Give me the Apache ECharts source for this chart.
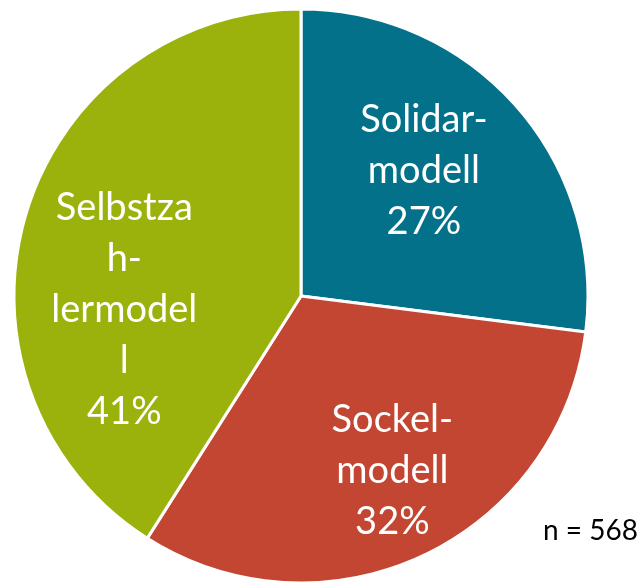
<!DOCTYPE html>
<html>
<head>
<meta charset="utf-8">
<script src="https://cdn.jsdelivr.net/npm/echarts@6/dist/echarts.min.js"></script>
<style>
html,body{margin:0;padding:0;background:#fff;}
#chart{width:644px;height:582px;}
</style>
</head>
<body>
<div id="chart"></div>
<script>
var categories = ['Solidar-\nmodell', 'Sockel-\nmodell', 'Selbstza\nh-\nlermodel\nl'];
var values = [27, 32, 41];
var colors = ['#04718a', '#c24632', '#9bb20c'];
var sampleNote = 'n = 568';
var labelShift = [[13, -28], [29, 42], [-36, 55]];

var chart = echarts.init(document.getElementById('chart'));
chart.setOption({
  animation: false,
  backgroundColor: '#ffffff',
  graphic: [{
    type: 'text',
    right: 6,
    top: 517,
    style: {
      text: sampleNote,
      fill: '#000000',
      font: '28px Lato',
      textAlign: 'right'
    }
  }],
  series: [{
    type: 'pie',
    center: [301, 296],
    radius: 287,
    startAngle: 90,
    clockwise: true,
    avoidLabelOverlap: false,
    itemStyle: { borderColor: '#ffffff', borderWidth: 3 },
    label: {
      show: true,
      position: 'inside',
      formatter: '{b}\n{c}%',
      color: '#ffffff',
      fontFamily: 'Lato',
      fontSize: 38,
      lineHeight: 51,
      align: 'center'
    },
    labelLine: { show: false },
    labelLayout: function (p) {
      return { dx: labelShift[p.dataIndex][0], dy: labelShift[p.dataIndex][1] };
    },
    emphasis: { disabled: true },
    data: categories.map(function (c, i) {
      return { name: c, value: values[i], itemStyle: { color: colors[i] } };
    })
  }]
});
</script>
</body>
</html>
